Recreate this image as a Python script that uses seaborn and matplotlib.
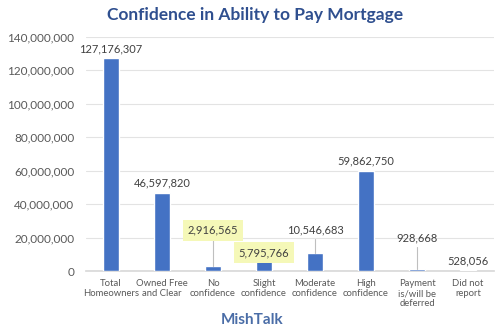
import numpy as np
import pandas as pd
import matplotlib.pyplot as plt
import seaborn as sns
from matplotlib.ticker import FuncFormatter

# データ
categories = ['Total\nHomeowners', 'Owned Free\nand Clear', 'No\nconfidence', 'Slight\nconfidence',
              'Moderate\nconfidence', 'High\nconfidence', 'Payment\nis/will be\ndeferred', 'Did not\nreport']
values = [127176307, 46597820, 2916565, 5795766, 10546683, 59862750, 928668, 528056]
# ラベル位置 (データ座標, None = バーの上)
label_y = [None, None, 24.5e6, 10.8e6, 24.5e6, None, 19.7e6, 6.0e6]
highlight = [False, False, True, True, False, False, False, False]

df = pd.DataFrame({'cat': categories, 'val': values})

sns.set_theme(style='white')
plt.rcParams['font.family'] = ['Lato', 'DejaVu Sans']

fig = plt.figure(figsize=(5, 3.35), dpi=100)
ax = fig.add_axes([0.171, 0.191, 0.816, 0.699])

sns.barplot(data=df, x='cat', y='val', color='#4472C4', width=0.31, saturation=1, ax=ax, zorder=3)

ax.set_ylim(0, 140e6)
ax.set_yticks(np.arange(0, 140e6 + 1, 20e6))
ax.yaxis.set_major_formatter(FuncFormatter(lambda v, p: f'{int(v):,}'))
ax.grid(axis='y', color='#e3e3e3', linewidth=0.8, zorder=0)
ax.set_xlim(-0.5, len(categories) - 0.5)
for s in ['top', 'right', 'left']:
    ax.spines[s].set_visible(False)
ax.spines['bottom'].set_color('#d9d9d9')
ax.tick_params(axis='both', length=0, colors='#595959', labelsize=8)
ax.tick_params(axis='x', labelsize=6.8, pad=6)
ax.tick_params(axis='y', labelsize=8.5, pad=8)
for t in ax.get_xticklabels():
    t.set_linespacing(1.15)
ax.set_xlabel('')
ax.set_ylabel('')

for i, (v, ly, hl) in enumerate(zip(values, label_y, highlight)):
    if ly is None:
        ax.text(i, v + 2.5e6, f'{v:,}', ha='center', va='bottom', fontsize=8, color='#404040', zorder=5)
    else:
        bbox = dict(boxstyle='square,pad=0.45', fc='#f5f8b8', ec='none') if hl else None
        ax.text(i, ly, f'{v:,}', ha='center', va='center', fontsize=8, color='#404040', bbox=bbox, zorder=5)
        top = ly - 5.5e6
        if top - v > 2e6:
            ax.plot([i, i], [v, top], color='#bfbfbf', linewidth=0.8, zorder=4)

fig.text(0.51, 0.955, 'Confidence in Ability to Pay Mortgage', ha='center', va='center',
         fontsize=12.5, fontweight='bold', color='#2F4F8F')
fig.text(0.505, 0.045, 'MishTalk', ha='center', va='center',
         fontsize=11, fontweight='bold', color='#4A6DA7')

fig.savefig('out.png', dpi=100)
